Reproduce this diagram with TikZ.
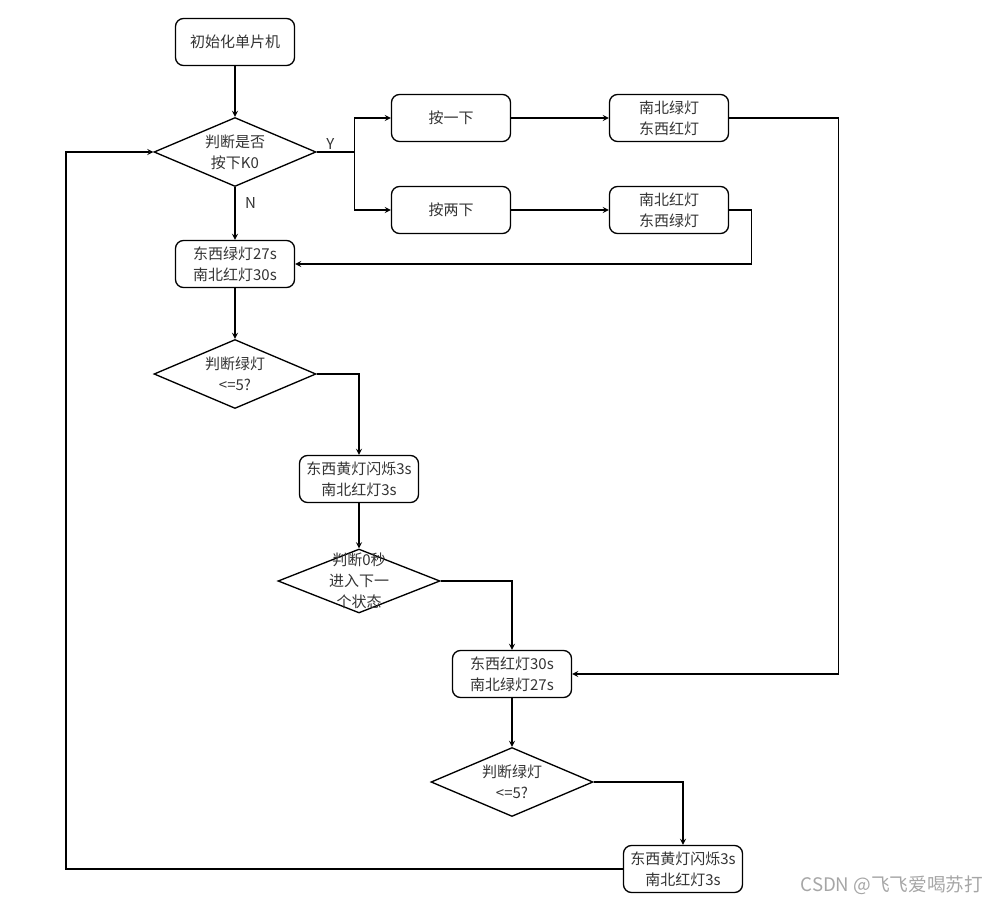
\documentclass[tikz,border=0pt]{standalone}
\usepackage{fontspec}
\newfontfamily\cjk{Noto Sans CJK SC}
\usetikzlibrary{shapes.geometric, arrows}

\begin{document}
\begin{tikzpicture}[node distance=82.5pt,
        % styles
        font=\cjk\fontsize{11.25}{15.75}\selectfont,
        process/.style = {
                rectangle, rounded corners=6pt,
                minimum width=89.25pt, minimum height=35.25pt,
                align=center, draw=black, line width=1pt, text=black!80
            },
        decision/.style = {
                diamond, aspect=2.35, inner sep=0pt,
                minimum width=121.5pt, minimum height=51.75pt,
                align=center, draw=black, line width=1pt, text=black!80
            },
        label/.style = {
                text=black!80, inner sep=1pt
            },
        arrow/.style = {
                line width=1pt,->,>=stealth
            }]

    \useasboundingbox (0,0) rectangle (744pt,-684.75pt);

    \node (init) [process] at (176.25pt,-31.5pt) {初始化单片机};
    \node (judge_k0) [decision, below of=init] {判断是否\\按下K0};
    \node (press_one) [process, right of=judge_k0, xshift=79.5pt, yshift=25.5pt] {按一下};
    \node (press_two) [process, below of=press_one, yshift=13.5pt] {按两下};
    \node (ns_green) [process, right of=press_one, xshift=81pt] {南北绿灯\\东西红灯};
    \node (ns_red) [process, right of=press_two, xshift=81pt] {南北红灯\\东西绿灯};
    \node (ew_green) [process, below of=judge_k0, yshift=-1.5pt] {东西绿灯27s\\南北红灯30s};
    \node (judge_ew) [decision, below of=ew_green] {判断绿灯\\<=5?};
    \node (ew_yellow) [process, below of=judge_ew, xshift=93pt, yshift=3.75pt] {东西黄灯闪烁3s\\南北红灯3s};
    \node (judge_zero) [decision, below of=ew_yellow, yshift=6pt, minimum height=48pt] {};
    \node (zero_text) [label, align=center] at (judge_zero) {判断0秒\\进入下一\\个状态};
    \node (ns_green_2) [process, below of=judge_zero, xshift=114.75pt, yshift=12.75pt] {东西红灯30s\\南北绿灯27s};
    \node (judge_ns) [decision, below of=ns_green_2, yshift=1.5pt] {判断绿灯\\<=5?};
    \node (ns_yellow) [process, below of=judge_ns, xshift=128.25pt, yshift=17.25pt] {东西黄灯闪烁3s\\南北红灯3s};

    \coordinate (split) at ([xshift=28.5pt]judge_k0.east);

    % arrows
    \draw [arrow] (init) -- (judge_k0);
    \draw [line width=1pt] (judge_k0.east) -- node[label, anchor=south, xshift=-4pt] {Y} (split);
    \draw [arrow] (split) |- (press_one);
    \draw [arrow] (split) |- (press_two);
    \draw [arrow] (press_one) -- (ns_green);
    \draw [arrow] (press_two) -- (ns_red);
    \draw [arrow] (judge_k0) -- node[label, anchor=west, xshift=6pt, pos=0.3] {N} (ew_green);
    \draw [arrow] (ns_red.east) -- ++(16.5pt,0) |- (ew_green.east);
    \draw [arrow] (ns_green.east) -- ++(81.75pt,0) |- (ns_green_2.east);
    \draw [arrow] (ew_green) -- (judge_ew);
    \draw [arrow] (judge_ew.east) -| (ew_yellow.north);
    \draw [arrow] (ew_yellow) -- (judge_zero);
    \draw [arrow] (judge_zero.east) -| (ns_green_2.north);
    \draw [arrow] (ns_green_2) -- (judge_ns);
    \draw [arrow] (judge_ns.east) -| (ns_yellow.north);
    \draw [arrow] (ns_yellow.west) -- ++(-417.75pt,0) |- (judge_k0.west);

    % watermark
    \node (mark) [anchor=east, text=black!35, font=\cjk\fontsize{14}{16}\selectfont] at (741pt,-663.75pt) {CSDN @飞飞爱喝苏打};
\end{tikzpicture}
\end{document}
